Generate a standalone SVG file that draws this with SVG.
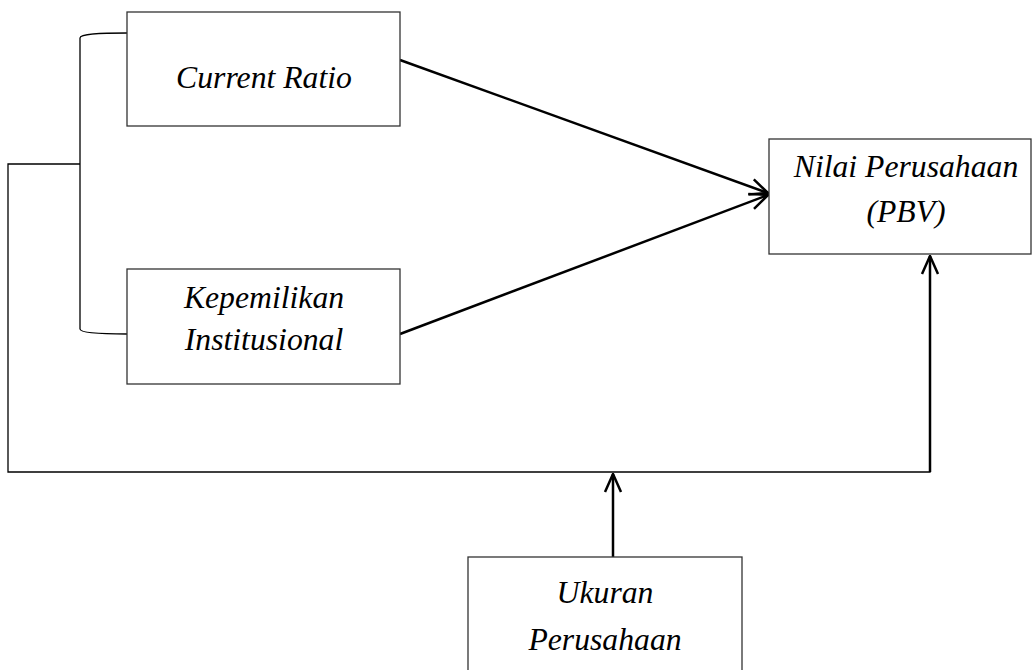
<svg xmlns="http://www.w3.org/2000/svg" width="1036" height="670" viewBox="0 0 1036 670">
<style>
.box{fill:#fff;stroke:#333;stroke-width:1.3}
.t{font-family:"Liberation Serif","Times New Roman",serif;font-style:italic;font-size:31.7px;fill:#000;text-anchor:middle}
.c{fill:none;stroke:#000;stroke-width:2.5}
.b{fill:none;stroke:#000;stroke-width:1.3}
</style>
<defs>
<marker id="ah" viewBox="0 0 20 20" refX="19" refY="10" markerWidth="20" markerHeight="20" markerUnits="userSpaceOnUse" orient="auto">
<path d="M1,2 L19,10 L1,18" fill="none" stroke="#000" stroke-width="2.5"/>
</marker>
</defs>
<g id="connectors">
<path class="b" d="M127,33 C100,33 80,34 80,38 L80,329 C80,333 100,334 127,334"/>
<path class="b" d="M80,164 L8,164 L8,472 L930,472 L930,256"/>
<path class="c" d="M930,472 L930,256" marker-end="url(#ah)"/>
<path class="c" d="M400,60 L768,193" marker-end="url(#ah)"/>
<path class="c" d="M400,334 L768,195" marker-end="url(#ah)"/>
<path class="c" d="M613,557 L613,474" marker-end="url(#ah)"/>
</g>
<g id="current-ratio">
<rect class="box" x="127" y="12" width="273" height="114"/>
<text class="t" x="264" y="88">Current Ratio</text>
</g>
<g id="kepemilikan">
<rect class="box" x="127" y="269" width="273" height="115"/>
<text class="t" x="264" y="308">Kepemilikan</text>
<text class="t" x="264" y="350">Institusional</text>
</g>
<g id="nilai">
<rect class="box" x="769" y="139" width="262" height="115"/>
<text class="t" x="906" y="177">Nilai Perusahaan</text>
<text class="t" x="906" y="222">(PBV)</text>
</g>
<g id="ukuran">
<rect class="box" x="468" y="557" width="274" height="120"/>
<text class="t" x="605" y="603">Ukuran</text>
<text class="t" x="605" y="650">Perusahaan</text>
</g>
</svg>
